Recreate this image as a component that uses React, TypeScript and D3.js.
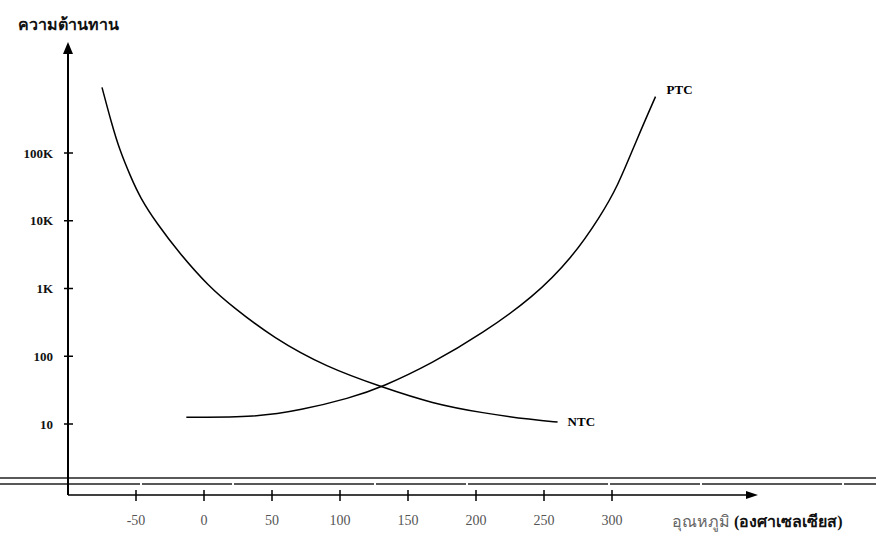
import * as d3 from 'd3'

// NTC thermistor: temperature (°C) vs resistance (ohm)
const ntcTemp = [-75, -68, -62, -54, -47, -35, -18, 4, 21, 51, 90, 131, 168, 205, 242, 260]
const ntcRes = [930000, 275000, 110000, 45000, 22000, 9300, 3300, 1050, 540, 186, 69, 35, 20, 14.5, 11.5, 10.7]

// PTC thermistor
const ptcTemp = [-13, 39, 71, 107, 131, 168, 205, 242, 271, 291, 304, 318, 332]
const ptcRes = [12.6, 12.6, 16, 24, 35, 79, 219, 740, 2900, 11300, 31500, 155000, 680000]

const yTicks = [10, 100, 1000, 10000, 100000]
const yTickLabels = ['10', '100', '1K', '10K', '100K']
const xTicks = [-50, 0, 50, 100, 150, 200, 250, 300]

const W = 876
const H = 538
const serif = '"Liberation Serif", "DejaVu Serif", serif'

export default function App() {
  const x = d3.scaleLinear().domain([-50, 300]).range([136, 612])
  const y = d3.scaleLog().domain([10, 100000]).range([424, 153])

  const axisX = 68
  const axisY = 495

  const line = d3
    .line<[number, number]>()
    .x((d) => x(d[0]))
    .y((d) => y(d[1]))
    .curve(d3.curveBasis)

  const ntc = ntcTemp.map((t, i) => [t, ntcRes[i]] as [number, number])
  const ptc = ptcTemp.map((t, i) => [t, ptcRes[i]] as [number, number])
  const ntcEnd = ntc[ntc.length - 1]
  const ptcEnd = ptc[ptc.length - 1]

  return (
    <svg
      width={W}
      height={H}
      style={{ position: 'absolute', left: 0, top: 0, background: '#fff' }}
    >
      {/* double rule across the page */}
      <line x1={0} x2={W} y1={478} y2={478} stroke="#222" strokeWidth={1.4} />
      <line x1={0} x2={W} y1={484} y2={484} stroke="#222" strokeWidth={1.4} strokeDasharray="140,2,90,2" />

      {/* y axis with arrow */}
      <line x1={axisX} x2={axisX} y1={52} y2={axisY} stroke="#000" strokeWidth={2} />
      <path d={`M${axisX},42 L${axisX - 5},54 L${axisX + 5},54 Z`} fill="#000" />

      {/* x axis with arrow */}
      <line x1={axisX} x2={750} y1={axisY} y2={axisY} stroke="#000" strokeWidth={1.5} />
      <path d={`M758,${axisY} L746,${axisY - 4} L746,${axisY + 4} Z`} fill="#000" />

      {yTicks.map((t, i) => (
        <g key={t}>
          <line x1={axisX - 4} x2={axisX + 5} y1={y(t)} y2={y(t)} stroke="#000" strokeWidth={1.5} />
          <text
            x={53}
            y={y(t)}
            dy="0.35em"
            textAnchor="end"
            fontFamily={serif}
            fontWeight="bold"
            fontSize={13}
            fill="#111"
          >
            {yTickLabels[i]}
          </text>
        </g>
      ))}

      {xTicks.map((t) => (
        <g key={t}>
          <line x1={x(t)} x2={x(t)} y1={axisY - 5} y2={axisY + 6} stroke="#000" strokeWidth={1.5} />
          <text
            x={x(t)}
            y={525}
            textAnchor="middle"
            fontFamily={serif}
            fontSize={14}
            fill="#555"
          >
            {t}
          </text>
        </g>
      ))}

      <path d={line(ntc) || ''} fill="none" stroke="#000" strokeWidth={1.5} />
      <path d={line(ptc) || ''} fill="none" stroke="#000" strokeWidth={1.5} />

      <text x={x(ntcEnd[0]) + 10} y={y(ntcEnd[1]) + 4} fontFamily={serif} fontWeight="bold" fontSize={13}>
        NTC
      </text>
      <text x={x(ptcEnd[0]) + 11} y={y(ptcEnd[1]) - 3} fontFamily={serif} fontWeight="bold" fontSize={13}>
        PTC
      </text>

      <text x={18} y={30} fontFamily={serif} fontWeight="bold" fontSize={16} fill="#111">
        ความต้านทาน
      </text>
      <text x={672} y={527} fontFamily={serif} fontSize={16}>
        <tspan fill="#666">อุณหภูมิ </tspan>
        <tspan fill="#111" fontWeight="bold">(องศาเซลเซียส)</tspan>
      </text>
    </svg>
  )
}
